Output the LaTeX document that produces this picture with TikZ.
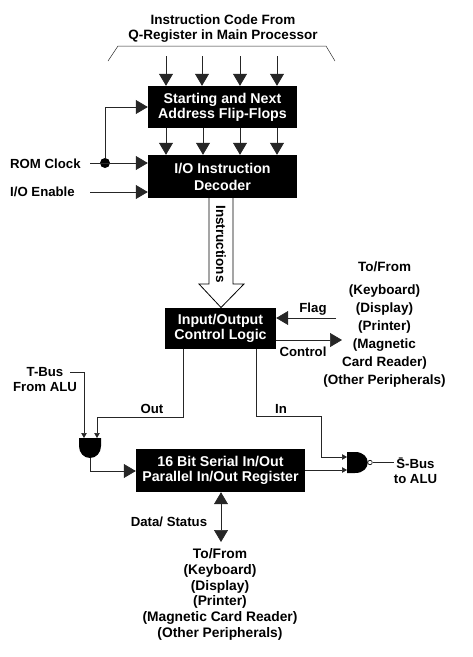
\documentclass[tikz,border=0pt]{standalone}
\usepackage{fontspec}
\setmainfont{Liberation Sans}
\usetikzlibrary{arrows.meta}
\tikzset{
  blockbox/.style={fill=black, text=white, font=\fontsize{14.2}{15}\selectfont\bfseries, align=center, inner sep=0pt,
    execute at begin node={\rule{0pt}{13.5pt}}},
  labeltext/.style={font=\fontsize{13.2}{15}\selectfont\bfseries, align=center, inner sep=0pt},
  wire/.style={draw=black!85, line width=0.7pt},
  bigarrow/.style={wire, -{Triangle[length=12pt,width=14pt]}},
  smallarrow/.style={wire, -{Triangle[length=5pt,width=5.5pt]}},
}
\begin{document}
\begin{tikzpicture}[x=1pt, y=-1pt]
      \useasboundingbox (0,0) rectangle (472,657);
      % blocks
      \node[blockbox, minimum width=149pt, minimum height=42pt] (flipflops) at (222.5,107)
        {Starting and Next\\Address Flip-Flops};
      \node[blockbox, minimum width=149pt, minimum height=43pt] (decoder) at (222.5,176.5)
        {I/O Instruction\\[2pt]Decoder};
      \node[blockbox, minimum width=111pt, minimum height=41pt] (logic) at (220.5,328.5)
        {Input/Output\\Control Logic};
      \node[blockbox, minimum width=169pt, minimum height=43pt] (register) at (220.5,470.5)
        {16 Bit Serial In/Out\\Parallel In/Out Register};
      % instruction code
      \node[labeltext, font=\fontsize{13.5}{15}\selectfont\bfseries] (code) at (223,29)
        {Instruction Code From\\Q-Register in Main Processor};
      \coordinate (brace1) at (108,61);
      \coordinate (brace2) at (118,46);
      \coordinate (brace3) at (326,46);
      \coordinate (brace4) at (335,61);
      \draw[wire, line width=0.5pt] (brace1) -- (brace2) -- (brace3) -- (brace4);
      \foreach \i/\xa/\xb in {1/166/166, 2/202/203, 3/240/240, 4/277/277} {
        \coordinate (code\i) at (\xa,56);
        \coordinate (bit\i) at (\xb,128);
        \draw[bigarrow] (code\i) -- (code\i |- flipflops.north);
        \draw[bigarrow] (bit\i) -- (bit\i |- decoder.north);
      }
      % clock and enable
      \node[labeltext, anchor=west] (romclock) at (10,164) {ROM Clock};
      \node[labeltext, anchor=west] (ioenable) at (10,192) {I/O Enable};
      \coordinate (clockin) at (90,163);
      \coordinate (enablein) at (90,192);
      \node[circle, fill=black, inner sep=0pt, minimum size=10pt] (clockdot) at (105,163) {};
      \draw[bigarrow] (clockin) -- (clockin -| decoder.west);
      \draw[bigarrow] (enablein) -- (enablein -| decoder.west);
      \draw[bigarrow] (clockdot) |- (flipflops.west);
      % instructions
      \draw[draw=black, fill=white, line width=0.8pt] (209,198) -- (209,284) -- (199,284)
        -- (221,307.5) -- (244,284) -- (233,284) -- (233,198);
      \node[labeltext, font=\fontsize{13.5}{15}\selectfont\bfseries, rotate=-90] (instructions) at (221,244) {Instructions};
      % peripherals
      \node[labeltext, font=\fontsize{13.5}{18}\selectfont\bfseries] (periph) at (384.5,324.5)
        {To/From\\[5pt](Keyboard)\\(Display)\\(Printer)\\(Magnetic\\Card Reader)\\(Other Peripherals)};
      \coordinate (flagin) at (336,318);
      \coordinate (controlout) at (342,340);
      \draw[bigarrow] (flagin) -- (flagin -| logic.east);
      \draw[bigarrow] (controlout -| logic.east) -- (controlout);
      \node[labeltext] (flag) at (313,309) {Flag};
      \node[labeltext] (control) at (303,352) {Control};
      % and gate
      \coordinate (andin1) at (84,438);
      \coordinate (andin2) at (97,438);
      \coordinate (andout) at (90,458);
      \fill (79,438) -- (101,438) -- (101,446) .. controls (101,453) and (96,458) .. (andout)
        .. controls (84,458) and (79,453) .. (79,446) -- cycle;
      \node[labeltext] (tbus) at (45,379.5) {T-Bus\\From ALU};
      \coordinate (tbusout) at (70,372);
      \draw[smallarrow] (tbusout) -| (andin1);
      \draw[smallarrow] (logic.south -| 183,0) |- (97,417) -- (andin2);
      \node[labeltext] (out) at (152,409) {Out};
      \draw[bigarrow] (andout) |- (register.west |- 0,471);
      % nand gate
      \coordinate (nandin1) at (347,457);
      \coordinate (nandin2) at (347,470);
      \fill (347,452) -- (355,452) .. controls (372,452) and (372,473) .. (355,473) -- (347,473) -- cycle;
      \node[circle, draw=black, line width=0.6pt, fill=white, inner sep=0pt, minimum size=4.5pt] (bubble) at (370,462.5) {};
      \draw[smallarrow] (logic.south -| 256,0) |- (321,416) |- (nandin1);
      \draw[smallarrow] (register.east |- nandin2) -- (nandin2);
      \node[labeltext] (in) at (281,409) {In};
      \node[labeltext] (sbus) at (415.5,471) {S̄-Bus\\to ALU};
      \coordinate (sbusin) at (394,462.5);
      \draw[wire] (bubble) -- (sbusin);
      % data and status
      \coordinate (dataend) at (221,542);
      \draw[wire, {Triangle[length=12pt,width=14pt]}-{Triangle[length=12pt,width=14pt]}] (register.south -| dataend) -- (dataend);
      \node[labeltext] (datastatus) at (169,522) {Data/ Status};
      \node[labeltext, font=\fontsize{13.8}{15.8}\selectfont\bfseries] (periphb) at (220,594.5)
        {To/From\\(Keyboard)\\(Display)\\(Printer)\\(Magnetic Card Reader)\\(Other Peripherals)};
    \end{tikzpicture}
\end{document}
